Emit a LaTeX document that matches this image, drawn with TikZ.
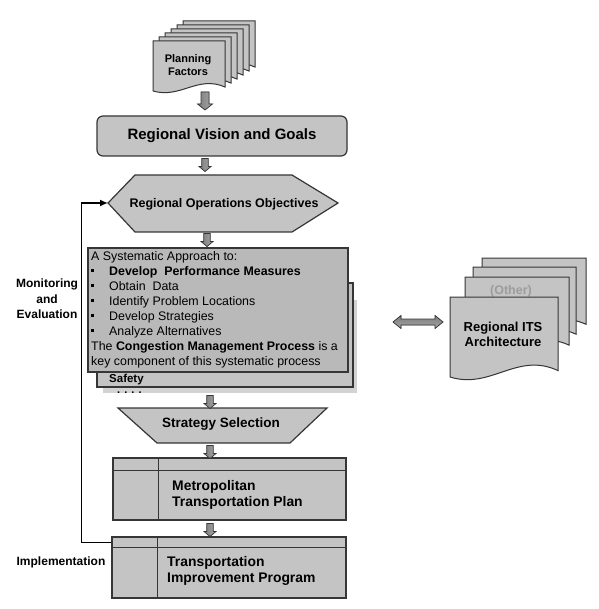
\documentclass[tikz,border=0pt]{standalone}
\usepackage{fontspec}
\setmainfont{Liberation Sans}
\usetikzlibrary{arrows.meta,calc}
\definecolor{boxfill}{HTML}{C4C4C4}
\definecolor{boxline}{HTML}{363636}
\definecolor{sysfill}{HTML}{B9B9B9}
\definecolor{shadowfill}{HTML}{D3D3D3}
\definecolor{arrfill}{HTML}{A6A6A6}
\definecolor{othertext}{HTML}{9C9C9C}
\newcommand\fsz[1]{\fontsize{#1}{#1}\selectfont}
\newcommand\sqbul{\makebox[18pt][l]{\rule[2.7pt]{3.2pt}{3.2pt}}}
\newcommand\docpage[4]{\filldraw[pagest] (#1,#2) -- (#1+#3,#2) -- (#1+#3,#2+#4-0.08*#4) .. controls (#1+0.62*#3,#2+#4-0.32*#4) and (#1+0.38*#3,#2+#4+0.16*#4) .. (#1,#2+#4) -- cycle;}
\tikzset{
  shapebox/.style={fill=boxfill, draw=boxline, line width=1.2pt},
  pagest/.style={fill=boxfill, draw=boxline, line width=1pt},
  arrst/.style={draw=boxline, line width=0.7pt, left color=arrfill!75!black, middle color=arrfill!45!white, right color=arrfill},
  arrsth/.style={draw=boxline, line width=0.7pt, top color=arrfill!75!black, middle color=arrfill!45!white, bottom color=arrfill},
  blockdown/.pic={\filldraw[arrst] (-3.2,-6.5) -- (3.2,-6.5) -- (3.2,1.5) -- (6,1.5) -- (0,6.5) -- (-6,1.5) -- (-3.2,1.5) -- cycle;},
  bigblockdown/.pic={\filldraw[arrst] (-4,-9) -- (4,-9) -- (4,3) -- (7.5,3) -- (0,9) -- (-7.5,3) -- (-4,3) -- cycle;},
  blockboth/.pic={\filldraw[arrsth] (-25,0) -- (-17,-6.5) -- (-17,-3) -- (17,-3) -- (17,-6.5) -- (25,0) -- (17,6.5) -- (17,3) -- (-17,3) -- (-17,6.5) -- cycle;},
  lab/.style={font=\fsz{12}\bfseries, align=center, inner sep=0pt},
}
\begin{document}
\begin{tikzpicture}[x=1pt,y=-1pt]
\useasboundingbox (0,0) rectangle (598,609);
\fill[white] (0,0) rectangle (598,609);

% Planning factors stack
\foreach \i in {5,4,3,2,1} {\docpage{153+6*\i}{41-4*\i}{72}{50}}
\docpage{153}{41}{72}{50}
\node[lab, font=\fsz{11}\bfseries, align=center] (plan) at (188,65) {Planning\\[2pt]Factors};

% Regional vision
\node[shapebox, rounded corners=6pt, minimum width=250pt, minimum height=40pt] (vision) at (222,136)
  {\fsz{15}\bfseries Regional Vision and Goals};

% Hexagon
\filldraw[shapebox] (108,203) -- (135,175) -- (292,175) -- (338,203) -- (292,232) -- (135,232) -- cycle;
\coordinate (objw) at (108,203);
\node[lab, font=\fsz{12.5}\bfseries] (obj) at (224,204) {Regional Operations Objectives};

% Systematic approach stack
\fill[shadowfill] (103,300) rectangle (357,393);
\filldraw[shapebox] (97,283) rectangle (353,387);
\node[anchor=base west, inner sep=0pt, font=\fsz{11.5}\bfseries] (safety) at (109,382) {Safety};
\node[anchor=base west, inner sep=0pt, font=\fsz{11}\bfseries] (dots) at (117,393) {. . . .};
\node[draw=boxline, fill=sysfill, line width=1.2pt, minimum width=260pt, minimum height=124pt] (sys) at (218,310) {};
\node[anchor=north west, align=left, inner sep=0pt, font=\fontsize{12.4}{15}\selectfont] (systext) at (91,251) {%
A Systematic Approach to:\\
\sqbul\textbf{Develop\ \ Performance Measures}\\
\sqbul Obtain\ \ Data\\
\sqbul Identify Problem Locations\\
\sqbul Develop Strategies\\
\sqbul Analyze Alternatives\\
The \textbf{Congestion Management Process} is a\\
key component of this systematic process};

% Regional ITS architecture stack
\docpage{482}{258}{104}{72}
\docpage{473}{267}{103}{73}
\docpage{465}{277}{104}{74}
\node[lab, font=\fsz{12.5}\bfseries, text=othertext] (other) at (511,291) {(Other)};
\docpage{450}{297}{108}{80}
\node[lab, font=\fsz{13}\bfseries, align=center] (its) at (503,334) {Regional ITS\\[2pt]Architecture};

\pic (dbl) at (418,322) {blockboth};

% Strategy selection
\filldraw[shapebox] (118,408) -- (327,408) -- (290,443) -- (157,443) -- cycle;
\node[lab, font=\fsz{13.5}\bfseries] (strat) at (221,424) {Strategy Selection};

% MTP
\node[shapebox, minimum width=233pt, minimum height=62pt] (mtp) at (229.5,489) {};
\draw[boxline, line width=1.2pt] ([yshift=-13pt]mtp.north west) -- ([yshift=-13pt]mtp.north east);
\draw[boxline, line width=1.2pt] ([xshift=46pt]mtp.north west) -- ([xshift=46pt]mtp.south west);
\node[anchor=west, align=left, inner sep=0pt, font=\fontsize{13.9}{16}\selectfont\bfseries] (mtptext) at (172,495) {Metropolitan\\Transportation Plan};

% TIP
\node[shapebox, minimum width=234pt, minimum height=61pt] (tip) at (229,567.5) {};
\draw[boxline, line width=1.2pt] ([yshift=-11pt]tip.north west) -- ([yshift=-11pt]tip.north east);
\draw[boxline, line width=1.2pt] ([xshift=46pt]tip.north west) -- ([xshift=46pt]tip.south west);
\node[anchor=west, align=left, inner sep=0pt, font=\fontsize{13.9}{16}\selectfont\bfseries] (tiptext) at (167,571) {Transportation\\Improvement Program};

% Block arrows
\pic (a1) at (205,101) {bigblockdown};
\pic (a2) at (205,165) {blockdown};
\pic (a3) at (207,240) {blockdown};
\pic (a4) at (210,402) {blockdown};
\pic (a5) at (210,452) {blockdown};
\pic (a6) at (210,530) {blockdown};

% Feedback loop
\draw[line width=1.5pt, -{Latex[length=8pt,width=7pt]}] ([yshift=-6pt]tip.north west) -- ++(-30,0) |- (objw);
\node[lab, align=center, font=\fontsize{12}{15.5}\selectfont\bfseries] (mon) at (47,299) {Monitoring\\and\\Evaluation};
\node[lab] (impl) at (61,562) {Implementation};
\end{tikzpicture}
\end{document}
